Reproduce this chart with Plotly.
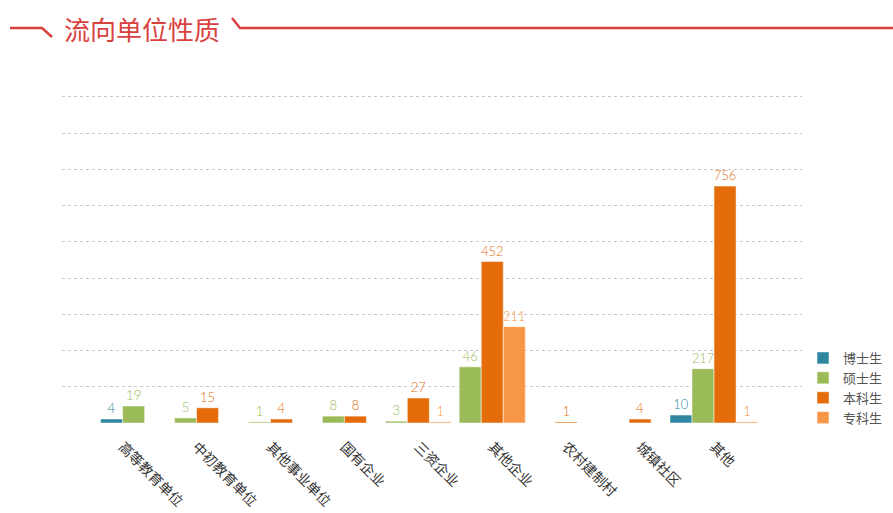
import plotly.graph_objects as go

# ---------------- data ----------------
categories = ["高等教育单位", "中初教育单位", "其他事业单位", "国有企业", "三资企业",
              "其他企业", "农村建制村", "城镇社区", "其他"]
series_names = ["博士生", "硕士生", "本科生", "专科生"]

# values shown as data labels
doctor_labels = [4, None, None, None, None, None, None, None, 10]
master_labels = [19, 5, 1, 8, 3, 46, None, None, 217]
bachelor_labels = [None, 15, 4, 8, 27, 452, 1, 4, 756]
specialist_labels = [None, None, None, None, 1, 211, None, None, 1]

# bar heights as drawn in the picture (axis units, gridline every 100)
doctor_heights = [11, None, None, None, None, None, None, None, 22]
master_heights = [47, 14, 3, 19, 5, 155, None, None, 150]
bachelor_heights = [None, 42, 11, 19, 69, 446, 3, 11, 654]
specialist_heights = [None, None, None, None, 3, 266, None, None, 3]

colors = ["#2f86a0", "#9bbb59", "#e46c0a", "#f79646"]

labels_all = [doctor_labels, master_labels, bachelor_labels, specialist_labels]
heights_all = [doctor_heights, master_heights, bachelor_heights, specialist_heights]

# ---------------- layout constants ----------------
W, H = 893, 513
ML, MR, MT, MB = 62, 91, 93, 90
PW, PH = W - ML - MR, H - MT - MB
BAR_W = 0.298
X_RANGE = [-0.82, 9.19]
Y_TOP = 911


def px(x):
    return (x - ML) / PW


def py(y):
    return (H - MB - y) / PH


# compute bar positions: bars of a category are centred on the series present
xs_all = [[] for _ in series_names]
for k in range(len(categories)):
    present = [s for s in range(len(series_names)) if heights_all[s][k] is not None]
    n = len(present)
    for j, s in enumerate(present):
        xs_all[s].append((k, k + (j - (n - 1) / 2) * BAR_W))

fig = go.Figure()
for s, name in enumerate(series_names):
    xs = [p for _, p in xs_all[s]]
    ys = [heights_all[s][k] for k, _ in xs_all[s]]
    tx = [str(labels_all[s][k]) for k, _ in xs_all[s]]
    fig.add_trace(go.Bar(
        name=name, x=xs, y=ys, width=BAR_W, text=tx,
        textposition="outside", cliponaxis=False,
        textfont=dict(color=colors[s], size=13, family="Lato", weight=300),
        marker=dict(color=colors[s], line=dict(color="white", width=0.5)),
        hoverinfo="skip",
    ))

fig.update_layout(
    width=W, height=H,
    margin=dict(l=ML, r=MR, t=MT, b=MB, autoexpand=False),
    plot_bgcolor="white", paper_bgcolor="white",
    barmode="overlay",
    showlegend=True,
    legend=dict(x=px(803), y=py(343), xanchor="left", yanchor="top",
                font=dict(size=13, color="#555", family="Noto Sans CJK SC"),
                itemwidth=30, bgcolor="rgba(0,0,0,0)"),
    font=dict(family="Noto Sans CJK SC"),
)
fig.update_xaxes(range=X_RANGE, tickmode="array", tickvals=list(range(len(categories))),
                 ticktext=categories, tickangle=45, showgrid=False, zeroline=False,
                 showline=False, ticks="", ticklabelstandoff=12, automargin=False,
                 tickfont=dict(size=14, color="#333", family="Noto Sans CJK SC"))
fig.update_yaxes(range=[0, Y_TOP], tickmode="array",
                 tickvals=[0, 100, 200, 300, 400, 500, 600, 700, 800, 900],
                 showgrid=True, gridcolor="#c8c8c8",
                 griddash="dot", gridwidth=1, zeroline=False, showticklabels=False,
                 showline=False, ticks="", automargin=False)

# title decoration
red = "#d9413f"
fig.add_shape(type="path", xref="paper", yref="paper",
              path=f"M{px(10)},{py(28)} L{px(42)},{py(28)} L{px(52)},{py(37)}",
              line=dict(color=red, width=2.5))
fig.add_shape(type="path", xref="paper", yref="paper",
              path=f"M{px(232)},{py(18)} L{px(240)},{py(28)} L{px(893)},{py(28)}",
              line=dict(color=red, width=2.5))
fig.add_annotation(text="流向单位性质", xref="paper", yref="paper",
                   x=px(142), y=py(28.5), xanchor="center", yanchor="middle",
                   showarrow=False, font=dict(size=26, color=red, family="Noto Sans CJK SC"))

fig.write_html("out.html", config={"displayModeBar": False},
               post_script="document.body.style.margin='0';document.body.style.overflow='hidden';")
